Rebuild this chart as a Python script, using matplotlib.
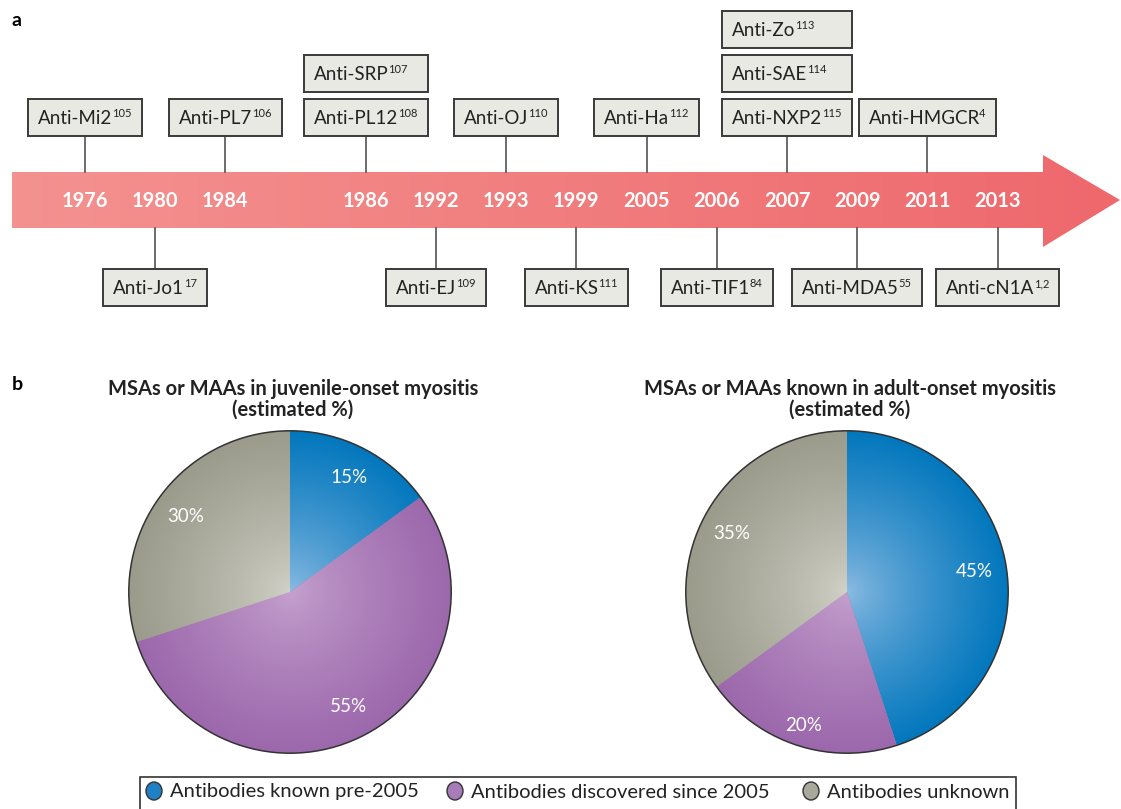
import matplotlib
matplotlib.use("Agg")
import matplotlib.pyplot as plt
import numpy as np
from matplotlib.patches import Polygon, Rectangle, Circle, Ellipse
from matplotlib.colors import to_rgb

plt.rcParams["font.family"] = ["Lato", "DejaVu Sans"]

W, H = 1121, 809

# panel a: discovery timeline
years = ["1976", "1980", "1984", "1986", "1992", "1993", "1999",
         "2005", "2006", "2007", "2009", "2011", "2013"]
ab_names = ["Anti-Mi2", "Anti-Jo1", "Anti-PL7", "Anti-PL12", "Anti-SRP", "Anti-EJ",
            "Anti-OJ", "Anti-KS", "Anti-Ha", "Anti-TIF1", "Anti-NXP2", "Anti-SAE",
            "Anti-Zo", "Anti-MDA5", "Anti-HMGCR", "Anti-cN1A"]
ab_refs = ["105", "17", "106", "108", "107", "109", "110", "111", "112", "84",
           "115", "114", "113", "55", "4", "1,2"]
ab_years = ["1976", "1980", "1984", "1986", "1986", "1992", "1993", "1999", "2005",
            "2006", "2007", "2007", "2007", "2009", "2011", "2013"]
ab_above = [True, False, True, True, True, False, True, False, True, False,
            True, True, True, False, True, False]
ab_level = [0, 0, 0, 0, 1, 0, 0, 0, 0, 0, 0, 1, 2, 0, 0, 0]

# panel b: pies
categories = ["Antibodies known pre-2005", "Antibodies discovered since 2005",
              "Antibodies unknown"]
juvenile_pct = [15, 55, 30]
adult_pct = [45, 20, 35]

CENTER_C = ["#8fbde3", "#c6a3cf", "#d3d3ca"]
EDGE_C = ["#0277bd", "#9c68ac", "#9a9b8b"]
LEG_C = ["#1f80c4", "#a77cb9", "#a8a99b"]
BOX_FC, BOX_EC = "#e9e9e4", "#3a3a3a"

fig = plt.figure(figsize=(W / 100, H / 100), dpi=100)
ov = fig.add_axes([0, 0, 1, 1])
ov.set_xlim(0, W)
ov.set_ylim(H, 0)
ov.axis("off")
renderer = fig.canvas.get_renderer()

# ---- arrow with horizontal gradient
ytop, ybot, head_x, head_top, head_bot, tip_x = 172, 228, 1043, 155, 247, 1120
arrow = Polygon([(12, ytop), (head_x, ytop), (head_x, head_top), (tip_x, (ytop + ybot) / 2),
                 (head_x, head_bot), (head_x, ybot), (12, ybot)],
                closed=True, fc="none", ec="none")
ov.add_patch(arrow)
c0, c1 = np.array(to_rgb("#f49290")), np.array(to_rgb("#ee686c"))
t = np.linspace(0, 1, 256)[None, :, None]
grad = (1 - t) * c0 + t * c1
im = ov.imshow(grad, extent=(12, tip_x, head_bot, head_top), aspect="auto", zorder=1)
im.set_clip_path(arrow)
ov.set_xlim(0, W)
ov.set_ylim(H, 0)

# year positions: one slot each, with an extra slot of space after 1984
year_x = {}
slot = 0
for y in years:
    year_x[y] = 85 + 70.2 * slot
    slot += 2 if y == "1984" else 1
for y in years:
    ov.text(year_x[y], 201, y, color="white", fontsize=14.5, fontweight="bold",
            ha="center", va="center", zorder=3)


def text_width(txt, **kw):
    tt = ov.text(0, 0, txt, **kw)
    w = tt.get_window_extent(renderer).width
    tt.remove()
    return w


MAIN_KW = dict(fontsize=13.5, color="#222222")
SUP_KW = dict(fontsize=8, color="#222222")
PAD, BOX_H, GAP = 10, 37, 7

# box widths: text + padding, shared within a stack
widths = [text_width(n, **MAIN_KW) + text_width(r, **SUP_KW) + 2 * PAD
          for n, r in zip(ab_names, ab_refs)]
stack_w = {}
for yr, up, w in zip(ab_years, ab_above, widths):
    stack_w[(yr, up)] = max(stack_w.get((yr, up), 0), w)

for name, ref, yr, up, lvl in zip(ab_names, ab_refs, ab_years, ab_above, ab_level):
    x = year_x[yr]
    w = stack_w[(yr, up)]
    if up:
        top = 99 - lvl * (BOX_H + GAP)
        if lvl == 0:
            ov.plot([x, x], [top + BOX_H, ytop], color="#444444", lw=1.1, zorder=2)
    else:
        top = 269 + lvl * (BOX_H + GAP)
        ov.plot([x, x], [ybot, top], color="#444444", lw=1.1, zorder=2)
    ov.add_patch(Rectangle((x - w / 2, top), w, BOX_H, fc=BOX_FC, ec=BOX_EC, lw=1.4, zorder=3))
    base = top + BOX_H - 12
    tm = ov.text(x - w / 2 + PAD, base, name, ha="left", va="baseline", zorder=4, **MAIN_KW)
    mw = tm.get_window_extent(renderer).width
    ov.text(x - w / 2 + PAD + mw - 0.5, base - 7, ref, ha="left", va="baseline", zorder=4, **SUP_KW)

ov.text(12, 20, "a", fontsize=14, fontweight="bold", va="center", ha="left")
ov.text(12, 384, "b", fontsize=14, fontweight="bold", va="center", ha="left")

# ---- pies
titles = ["MSAs or MAAs in juvenile-onset myositis\n(estimated %)",
          "MSAs or MAAs known in adult-onset myositis\n(estimated %)"]
pie_cx = [290, 847]
pie_cy, pie_r = 592, 162

n = 400
xs = np.linspace(-1, 1, n)
X, Y = np.meshgrid(xs, xs)
R = np.clip(np.hypot(X, Y), 0, 1)[..., None] ** 0.75

for vals, cx, title in zip([juvenile_pct, adult_pct], pie_cx, titles):
    ax = fig.add_axes([(cx - pie_r) / W, (H - pie_cy - pie_r) / H, 2 * pie_r / W, 2 * pie_r / H])
    wedges, _, autotexts = ax.pie(vals, startangle=90, counterclock=False, radius=1,
                                  colors=EDGE_C, autopct=lambda p: f"{p:.0f}%",
                                  pctdistance=0.8, wedgeprops=dict(linewidth=0),
                                  textprops=dict(color="white", fontsize=13.5))
    for wdg, a, b in zip(wedges, CENTER_C, EDGE_C):
        img = (1 - R) * np.array(to_rgb(a)) + R * np.array(to_rgb(b))
        pim = ax.imshow(img, extent=(-1, 1, -1, 1), origin="lower", zorder=2)
        pim.set_clip_path(wdg)
    for at in autotexts:
        at.set_zorder(5)
        px, py = at.get_position()
        if py < -0.74:  # label at the very bottom sits a bit further out
            at.set_position((px * 1.09, py * 1.09))
    ax.add_patch(Circle((0, 0), 1, fill=False, ec="#333333", lw=1.1, zorder=4))
    ax.set_xlim(-1.005, 1.005)
    ax.set_ylim(-1.005, 1.005)
    ax.set_aspect("equal")
    ax.axis("off")
    ov.text(cx + 3, 399, title, ha="center", va="center", fontsize=14.5, fontweight="bold",
            color="#222222", linespacing=1.05)

# ---- legend
ov.add_patch(Rectangle((140, 777), 876, 60, fc="white", ec="#333333", lw=1.2, zorder=3))
leg_x = [154, 455, 811]
for lx, lab, c in zip(leg_x, categories, LEG_C):
    ov.add_patch(Ellipse((lx, 791), 16, 18, fc=c, ec="#333333", lw=1, zorder=4))
    ov.text(lx + 16, 792, lab, ha="left", va="center", fontsize=14.5, color="#222222", zorder=4)

fig.savefig("out.png", dpi=100)
